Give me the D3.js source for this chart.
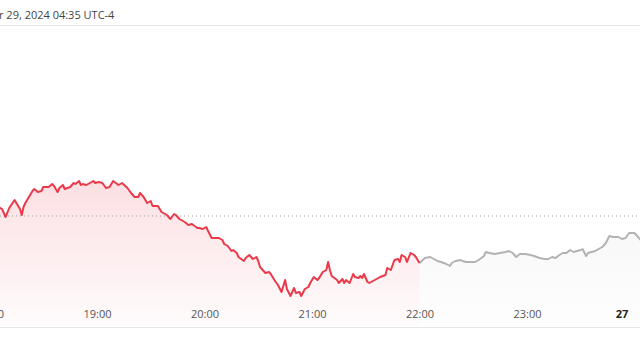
<html>
<head>
  <script src="https://d3js.org/d3.v7.min.js"></script>
  <style>
    body { margin: 0; background: #fff; }
    svg { display: block; font-family: "Open Sans", sans-serif; }
  </style>
</head>
<body>
  <svg id="chart" width="640" height="360"></svg>
  <script>
    // minutes after 18:00 and price (relative units)
    const redMinutes = [5, 7, 9, 11, 14, 15, 17, 18, 19, 20, 22, 24, 25, 27, 29, 30, 33, 35, 36, 38,
      39, 41, 42, 45, 47, 48, 50, 51, 52, 54, 56, 58, 59, 61, 63, 65, 67, 69, 72, 74,
      77, 79, 81, 83, 84, 86, 88, 90, 91, 94, 96, 99, 101, 103, 104, 106, 109, 111, 113, 116,
      117, 119, 121, 122, 124, 126, 128, 130, 131, 133, 135, 136, 138, 139, 142, 143, 145, 147, 149, 150,
      151, 153, 154, 156, 157, 159, 161, 163, 165, 166, 168, 170, 171, 173, 174, 176, 178, 179, 181, 183,
      184, 186, 188, 189, 190, 191, 194, 195, 197, 198, 199, 201, 203, 204, 206, 207, 208, 209, 211, 212,
      215, 218, 221, 222, 224, 226, 228, 229, 230, 232, 233, 235, 237, 238, 240];
    const redValues = [123, 121, 113, 122, 130, 127, 121, 115, 123, 127, 133, 139, 141, 138, 139, 143, 143, 146, 144, 138,
      142, 145, 141, 143, 147, 146, 149, 145, 146, 145, 147, 149, 147, 148, 147, 142, 143, 149, 145, 147,
      142, 137, 133, 133, 137, 133, 127, 129, 124, 124, 118, 115, 111, 116, 115, 111, 108, 105, 106, 102,
      102, 101, 103, 99, 92, 92, 92, 90, 86, 84, 79, 80, 77, 73, 69, 72, 75, 71, 73, 69,
      63, 59, 57, 58, 56, 50, 45, 38, 50, 41, 34, 42, 37, 38, 34, 41, 43, 47, 53, 50,
      52, 58, 60, 68, 60, 54, 50, 47, 51, 47, 50, 47, 56, 53, 52, 54, 52, 56, 48, 47,
      50, 53, 55, 62, 60, 70, 71, 68, 75, 73, 68, 77, 75, 73, 67];

    const grayMinutes = [240, 243, 246, 248, 250, 252, 255, 257, 258, 260, 263, 264, 266, 268, 271, 273, 276, 277, 279, 282,
      285, 288, 290, 292, 294, 296, 299, 302, 304, 307, 310, 312, 314, 316, 318, 320, 322, 324, 326, 328,
      330, 331, 333, 334, 336, 338, 340, 342, 344, 346, 348, 351, 353, 355, 357, 360, 362, 364];
    const grayValues = [67, 72, 73, 71, 69, 68, 66, 64, 67, 69, 70, 69, 68, 68, 68, 70, 74, 78, 77, 76,
      77, 78, 79, 77, 73, 76, 76, 75, 74, 72, 71, 71, 73, 72, 75, 77, 77, 80, 78, 79,
      80, 81, 74, 77, 78, 79, 81, 83, 87, 94, 93, 93, 91, 92, 97, 97, 93, 89];

    const previousClose = 114;
    const tickMinutes = [0, 60, 120, 180, 240, 300, 360];
    const tickLabels = ["18:00", "19:00", "20:00", "21:00", "22:00", "23:00", "27"];
    const headerText = "r 29, 2024 04:35 UTC-4";

    const svg = d3.select("#chart");
    const width = 640, height = 360;
    const base = new Date(2024, 0, 26, 18, 0);
    const toDate = m => new Date(base.getTime() + m * 60000);

    const x = d3.scaleTime()
      .domain([toDate(0), toDate(360)])
      .range([-10.5, 634.5]);
    const y = d3.scaleLinear()
      .domain([0, 305])
      .range([330, 25]);
    const bottom = 326;

    const red = redMinutes.map((m, i) => ({ t: toDate(m), v: redValues[i] }));
    const gray = grayMinutes.map((m, i) => ({ t: toDate(m), v: grayValues[i] }));

    const defs = svg.append("defs");
    const g1 = defs.append("linearGradient").attr("id", "redFill")
      .attr("gradientUnits", "userSpaceOnUse")
      .attr("x1", 0).attr("x2", 0).attr("y1", 178).attr("y2", bottom);
    g1.append("stop").attr("offset", 0).attr("stop-color", "#ea4355").attr("stop-opacity", 0.17);
    g1.append("stop").attr("offset", 1).attr("stop-color", "#ea4355").attr("stop-opacity", 0.02);
    const g2 = defs.append("linearGradient").attr("id", "grayFill")
      .attr("gradientUnits", "userSpaceOnUse")
      .attr("x1", 0).attr("x2", 0).attr("y1", 230).attr("y2", bottom);
    g2.append("stop").attr("offset", 0).attr("stop-color", "#999").attr("stop-opacity", 0.07);
    g2.append("stop").attr("offset", 1).attr("stop-color", "#999").attr("stop-opacity", 0.01);

    // header
    svg.append("text")
      .attr("x", -1).attr("y", 19)
      .attr("font-size", 11).attr("fill", "#444")
      .text(headerText);
    svg.append("line")
      .attr("x1", 0).attr("x2", width).attr("y1", 25.5).attr("y2", 25.5)
      .attr("stroke", "#e6e6e6");

    const area = d3.area().x(d => x(d.t)).y0(bottom).y1(d => y(d.v));
    const line = d3.line().x(d => x(d.t)).y(d => y(d.v));

    svg.append("path").datum(red).attr("d", area).attr("fill", "url(#redFill)");
    svg.append("path").datum(gray).attr("d", area).attr("fill", "url(#grayFill)");

    // previous close
    svg.append("line")
      .attr("x1", 0).attr("x2", width)
      .attr("y1", y(previousClose)).attr("y2", y(previousClose))
      .attr("stroke", "#9a9a9a").attr("stroke-width", 1)
      .attr("stroke-dasharray", "1,3");

    svg.append("path").datum(gray).attr("d", line)
      .attr("fill", "none").attr("stroke", "#b3b3b3").attr("stroke-width", 2)
      .attr("stroke-linejoin", "round");
    svg.append("path").datum(red).attr("d", line)
      .attr("fill", "none").attr("stroke", "#ea3a4a").attr("stroke-width", 2)
      .attr("stroke-linejoin", "round");

    // x axis
    const axis = d3.axisBottom(x)
      .tickValues(tickMinutes.map(toDate))
      .tickFormat((d, i) => tickLabels[i])
      .tickSize(0).tickPadding(0);
    const ax = svg.append("g").attr("transform", "translate(0,318)").call(axis);
    ax.select(".domain").remove();
    ax.selectAll("text")
      .attr("font-family", "Open Sans, sans-serif")
      .attr("font-size", 11).attr("fill", "#555").attr("dy", 0);
    ax.selectAll(".tick").filter((d, i) => i === tickLabels.length - 1)
      .select("text").attr("dx", -13).attr("font-weight", "bold").attr("fill", "#222");

    svg.append("line")
      .attr("x1", 0).attr("x2", width).attr("y1", 327.5).attr("y2", 327.5)
      .attr("stroke", "#e8e8e8");
  </script>
</body>
</html>
